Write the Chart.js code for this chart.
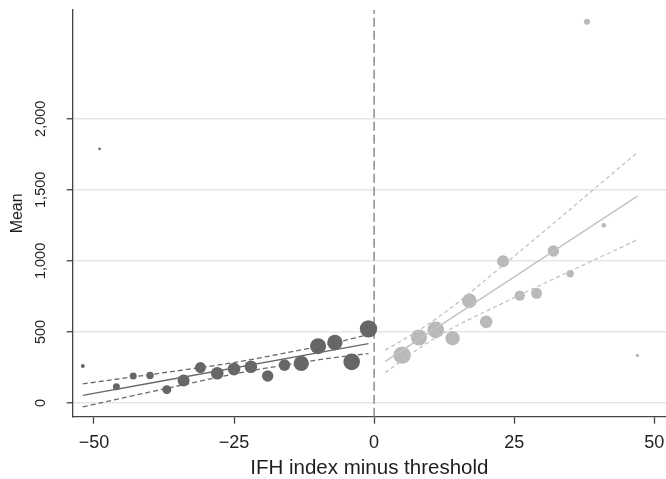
<!DOCTYPE html>
<html><head><meta charset="utf-8">
<script src="https://cdn.jsdelivr.net/npm/chart.js@4.4.1/dist/chart.umd.min.js"></script>
<style>html,body{margin:0;padding:0;background:#fff;} canvas{display:block;}</style>
</head><body>
<canvas id="c" width="666" height="479"></canvas>
<script>
// ---- data ----
const leftX      = [-52, -49, -46, -43, -40, -37, -34, -31, -28, -25, -22, -19, -16, -13, -10, -7, -4, -1];
const leftMean   = [260, 1788, 114, 190, 194, 94, 159, 250, 210, 239, 255, 190, 267, 279, 400, 426, 290, 522];
const leftRadius = [2, 1.3, 3.5, 3.5, 3.7, 4.5, 6, 5.5, 6.3, 6.3, 6.3, 5.7, 5.8, 7.7, 8, 7.7, 8.3, 8.7];

const rightX      = [5, 8, 11, 14, 17, 20, 23, 26, 29, 32, 35, 38, 41, 47];
const rightMean   = [337, 461, 515, 456, 719, 571, 997, 756, 772, 1070, 910, 2683, 1250, 335];
const rightRadius = [8.7, 8, 8.3, 7.2, 7.3, 6.3, 6, 5.2, 5.5, 5.7, 3.7, 3, 2.3, 1.7];

const leftFitX  = [-52, -1];
const leftFit   = [54, 418];
const leftBandX = [-52, -43, -34, -25, -16, -8, -1];
const leftUpper = [135, 184, 233, 285, 351, 415, 482];
const leftLower = [-27, 52, 129, 205, 267, 315, 348];

const rightFitX  = [2, 47];
const rightFit   = [293, 1456];
const rightBandX = [2, 8, 14, 20, 26, 33, 40, 47];
const rightUpper = [372, 512, 678, 870, 1066, 1297, 1530, 1763];
const rightLower = [214, 384, 528, 646, 760, 891, 1020, 1149];

const cutoff = 0;
const xTicks = [-50, -25, 0, 25, 50];
const xTickLabels = ['\u221250', '\u221225', '0', '25', '50'];
const yTicks = [0, 500, 1000, 1500, 2000];
const yTickLabels = ['0', '500', '1,000', '1,500', '2,000'];
const X_MIN = -53.8, X_MAX = 52.1, Y_MIN = -96, Y_MAX = 2765;

// ---- helpers ----
const pts = (xs, ys) => xs.map((x, i) => ({x: x, y: ys[i]}));
const bubbles = (xs, ys, rs) => xs.map((x, i) => ({x: x, y: ys[i], r: rs[i]}));
const FONT = "'Liberation Sans', Arial, Helvetica, sans-serif";
const DARK = '#666669', LIGHT = '#b9b9bc';
const DARKLINE = '#6a6a6a', LIGHTLINE = '#c2c2c2';

function lineDs(data, color, dash, width) {
  return {type: 'line', data: data, borderColor: color, borderWidth: width, borderDash: dash,
          pointRadius: 0, fill: false, cubicInterpolationMode: 'monotone', order: 1};
}

new Chart(document.getElementById('c'), {
  type: 'bubble',
  data: {
    datasets: [
      lineDs(pts(leftFitX, leftFit), DARKLINE, [], 1.4),
      lineDs(pts(leftBandX, leftUpper), DARKLINE, [5, 3], 1.3),
      lineDs(pts(leftBandX, leftLower), DARKLINE, [5, 3], 1.3),
      lineDs(pts(rightFitX, rightFit), LIGHTLINE, [], 1.4),
      lineDs(pts(rightBandX, rightUpper), LIGHTLINE, [4, 3], 1.3),
      lineDs(pts(rightBandX, rightLower), LIGHTLINE, [4, 3], 1.3),
      {type: 'bubble', data: bubbles(leftX, leftMean, leftRadius), backgroundColor: DARK,
       borderWidth: 0, order: 2},
      {type: 'bubble', data: bubbles(rightX, rightMean, rightRadius), backgroundColor: LIGHT,
       borderWidth: 0, order: 2},
      {type: 'line', data: [{x: cutoff, y: Y_MIN}, {x: cutoff, y: Y_MAX}], borderColor: '#8a8a8a',
       borderWidth: 1.5, borderDash: [9, 4], pointRadius: 0, fill: false, order: 3}
    ]
  },
  options: {
    responsive: false,
    animation: false,
    devicePixelRatio: 1,
    layout: {autoPadding: false, padding: {top: 10, right: 0, bottom: 0, left: 0}},
    plugins: {legend: {display: false}, tooltip: {enabled: false}},
    scales: {
      x: {
        type: 'linear', min: X_MIN, max: X_MAX,
        afterBuildTicks: s => { s.ticks = xTicks.map(v => ({value: v})); },
        afterFit: s => { s.height = 62.3; s.paddingLeft = 0; s.paddingRight = 0; },
        grid: {drawOnChartArea: false, drawTicks: true, tickLength: 7, tickColor: '#444', tickWidth: 1.3},
        border: {display: true, color: '#444', width: 1.3},
        ticks: {autoSkip: false, maxRotation: 0, padding: 8.2, color: '#1e1e1e',
                font: {family: FONT, size: 18},
                callback: v => xTickLabels[xTicks.indexOf(v)]},
        title: {display: true, text: 'IFH index minus threshold', color: '#1e1e1e',
                font: {family: FONT, size: 20.5, lineHeight: 1}, padding: {top: 0, bottom: 0}}
      },
      y: {
        type: 'linear', min: Y_MIN, max: Y_MAX,
        afterBuildTicks: s => { s.ticks = yTicks.map(v => ({value: v})); },
        afterFit: s => { s.width = 72.7; s.paddingTop = 0; s.paddingBottom = 0; },
        grid: {color: '#e6e6e6', lineWidth: 1.5, drawTicks: true, tickLength: 6, tickColor: '#444', tickWidth: 1.3},
        border: {display: true, color: '#444', width: 1.3},
        ticks: {minRotation: 90, maxRotation: 90, crossAlign: 'center', padding: 7.6, color: '#1e1e1e',
                font: {family: FONT, size: 14.5},
                callback: v => yTickLabels[yTicks.indexOf(v)]},
        title: {display: true, text: 'Mean', color: '#1e1e1e',
                font: {family: FONT, size: 16, lineHeight: 1}, padding: {top: 9.5, bottom: 0}}
      }
    }
  }
});
</script>
</body></html>
